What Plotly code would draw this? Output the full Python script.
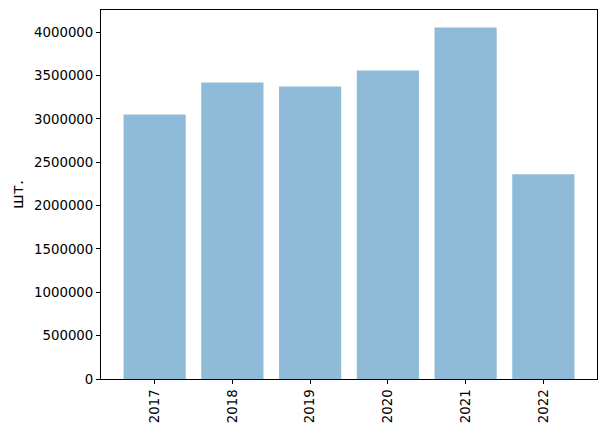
import plotly.graph_objects as go

years = ["2017", "2018", "2019", "2020", "2021", "2022"]
values = [3052000, 3420000, 3374000, 3559000, 4054000, 2361000]
y_ticks = [0, 500000, 1000000, 1500000, 2000000, 2500000, 3000000, 3500000, 4000000]
y_label = "шт."

fig = go.Figure(go.Bar(
    x=list(range(len(years))), y=values, width=0.8,
    marker=dict(color="rgba(31,119,180,0.5)", line=dict(width=0)),
))

font = dict(family="DejaVu Sans", size=13.33, color="black")
# page body has an 8px default margin, so the figure is 8px smaller and shifted
fig.update_layout(
    width=599, height=426,
    margin=dict(l=93, r=10, t=2, b=55),
    paper_bgcolor="white", plot_bgcolor="white",
    font=font, showlegend=False,
    xaxis=dict(
        range=[-0.69, 5.69], tickvals=list(range(len(years))), ticktext=years,
        tickangle=-90, ticks="outside", ticklen=4, tickcolor="black",
        showline=True, linecolor="black", linewidth=1, mirror=True,
        showgrid=False, zeroline=False, automargin=False,
    ),
    yaxis=dict(
        range=[0, max(values) * 1.05], tickvals=y_ticks,
        ticktext=[str(v) for v in y_ticks],
        ticks="outside", ticklen=4, tickcolor="black",
        showline=True, linecolor="black", linewidth=1, mirror=True,
        showgrid=False, zeroline=False, automargin=False,
        title=dict(text=y_label, standoff=8),
    ),
)

fig.write_html("out.html")
